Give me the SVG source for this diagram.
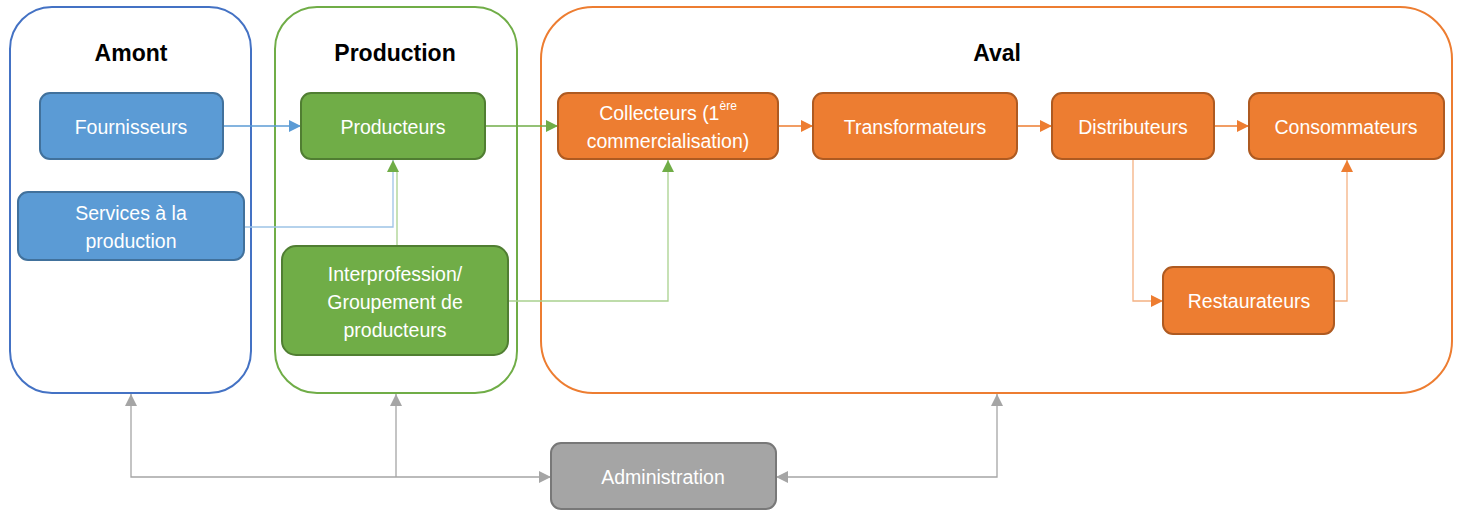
<svg xmlns="http://www.w3.org/2000/svg" width="1459" height="511" viewBox="0 0 1459 511">
<style>
.t{font-family:"Liberation Sans",Arial,sans-serif;font-size:19.5px;fill:#fff;text-anchor:middle;dominant-baseline:central}
.h{font-family:"Liberation Sans",Arial,sans-serif;font-size:23px;font-weight:bold;fill:#000;text-anchor:middle;dominant-baseline:central}
.blue{fill:#5B9BD5;stroke:#41719C;stroke-width:2}
.green{fill:#70AD47;stroke:#507E32;stroke-width:2}
.orange{fill:#ED7D31;stroke:#AE5A21;stroke-width:2}
.gray{fill:#A5A5A5;stroke:#787878;stroke-width:2}
.c{fill:none;stroke-width:1.3}
</style>
<defs>
<marker id="ab" viewBox="0 0 10 10" refX="10" refY="5" markerWidth="12" markerHeight="12" markerUnits="userSpaceOnUse" orient="auto-start-reverse"><path d="M0,0 L10,5 L0,10 z" fill="#5B9BD5"/></marker>
<marker id="ag" viewBox="0 0 10 10" refX="10" refY="5" markerWidth="12" markerHeight="12" markerUnits="userSpaceOnUse" orient="auto-start-reverse"><path d="M0,0 L10,5 L0,10 z" fill="#70AD47"/></marker>
<marker id="ao" viewBox="0 0 10 10" refX="10" refY="5" markerWidth="12" markerHeight="12" markerUnits="userSpaceOnUse" orient="auto-start-reverse"><path d="M0,0 L10,5 L0,10 z" fill="#ED7D31"/></marker>
<marker id="ay" viewBox="0 0 10 10" refX="10" refY="5" markerWidth="12" markerHeight="12" markerUnits="userSpaceOnUse" orient="auto-start-reverse"><path d="M0,0 L10,5 L0,10 z" fill="#A5A5A5"/></marker>
</defs>
<g id="amont">
<rect x="10" y="7" width="241" height="386" rx="42" fill="#fff" stroke="#4472C4" stroke-width="2"/>
<text class="h" x="131" y="53">Amont</text>
</g>
<g id="production">
<rect x="275" y="7" width="242" height="386" rx="42" fill="#fff" stroke="#70AD47" stroke-width="2"/>
<text class="h" x="395" y="53">Production</text>
</g>
<g id="aval">
<rect x="541" y="7" width="911" height="386" rx="52" fill="#fff" stroke="#ED7D31" stroke-width="2"/>
<text class="h" x="997" y="53">Aval</text>
</g>
<g id="connectors">
<path class="c" stroke="#5B9BD5" d="M223,126 H301" marker-end="url(#ab)"/>
<path class="c" stroke="#9DC3E6" d="M244,227 H393 V160" marker-end="url(#ag)"/>
<path class="c" stroke="#A9D18E" d="M397,246 V172"/>
<path class="c" stroke="#70AD47" d="M485,126 H558" marker-end="url(#ag)"/>
<path class="c" stroke="#A9D18E" d="M508,301 H668 V160" marker-end="url(#ag)"/>
<path class="c" stroke="#ED7D31" d="M778,126 H813" marker-end="url(#ao)"/>
<path class="c" stroke="#ED7D31" d="M1017,126 H1052" marker-end="url(#ao)"/>
<path class="c" stroke="#ED7D31" d="M1214,126 H1249" marker-end="url(#ao)"/>
<path class="c" stroke="#F4B183" d="M1133,159 V301 H1163" marker-end="url(#ao)"/>
<path class="c" stroke="#F4B183" d="M1334,301 H1347 V160" marker-end="url(#ao)"/>
<path class="c" stroke="#A5A5A5" stroke-width="1.6" d="M131,394 V477 H551" marker-start="url(#ay)" marker-end="url(#ay)"/>
<path class="c" stroke="#A5A5A5" stroke-width="1.6" d="M396,394 V477" marker-start="url(#ay)"/>
<path class="c" stroke="#A5A5A5" stroke-width="1.6" d="M776,477 H997 V394" marker-start="url(#ay)" marker-end="url(#ay)"/>
</g>
<g id="fournisseurs"><rect class="blue" x="40" y="93" width="183" height="66" rx="10"/><text class="t" x="131" y="127">Fournisseurs</text></g>
<g id="services"><rect class="blue" x="18" y="192" width="226" height="68" rx="10"/><text class="t" x="131" y="213">Services à la</text><text class="t" x="131" y="241">production</text></g>
<g id="producteurs"><rect class="green" x="301" y="93" width="184" height="66" rx="10"/><text class="t" x="393" y="127">Producteurs</text></g>
<g id="interprofession"><rect class="green" x="282" y="246" width="226" height="109" rx="14"/><text class="t" x="395" y="274">Interprofession/</text><text class="t" x="395" y="302">Groupement de</text><text class="t" x="395" y="330">producteurs</text></g>
<g id="collecteurs"><rect class="orange" x="558" y="93" width="220" height="66" rx="10"/><text class="t" x="668" y="113">Collecteurs (1<tspan font-size="12" dy="-7">ère</tspan></text><text class="t" x="668" y="141">commercialisation)</text></g>
<g id="transformateurs"><rect class="orange" x="813" y="93" width="204" height="66" rx="10"/><text class="t" x="915" y="127">Transformateurs</text></g>
<g id="distributeurs"><rect class="orange" x="1052" y="93" width="162" height="66" rx="10"/><text class="t" x="1133" y="127">Distributeurs</text></g>
<g id="consommateurs"><rect class="orange" x="1249" y="93" width="195" height="66" rx="10"/><text class="t" x="1346" y="127">Consommateurs</text></g>
<g id="restaurateurs"><rect class="orange" x="1163" y="267" width="171" height="67" rx="10"/><text class="t" x="1249" y="301">Restaurateurs</text></g>
<g id="administration"><rect class="gray" x="551" y="443" width="225" height="66" rx="10"/><text class="t" x="663" y="477">Administration</text></g>
</svg>
